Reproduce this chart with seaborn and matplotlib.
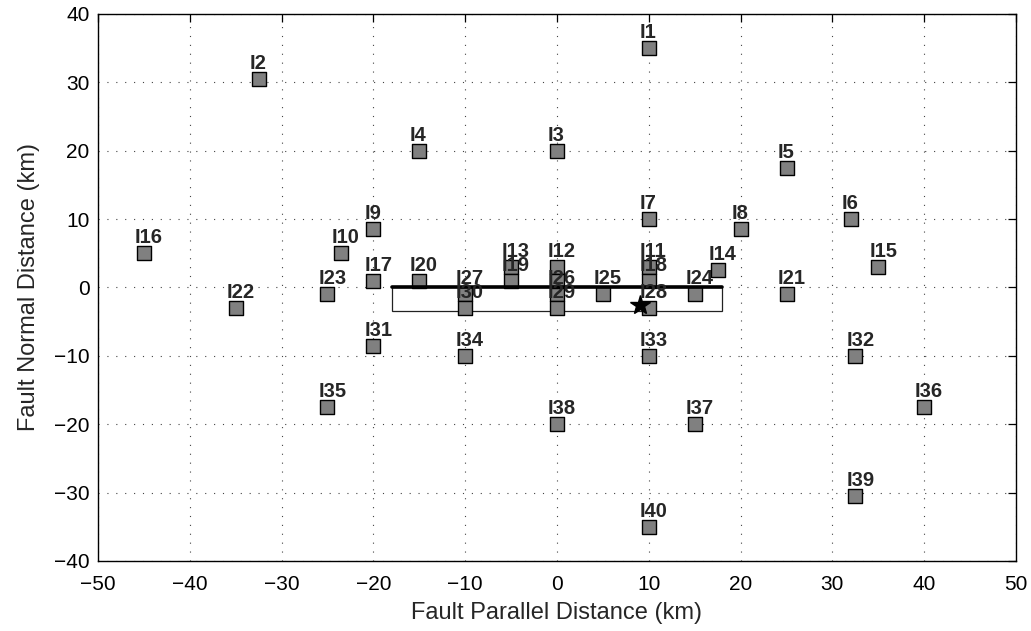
import matplotlib
matplotlib.use("Agg")
import matplotlib.pyplot as plt
import seaborn as sns
import pandas as pd

# Station names and coordinates (km) relative to the fault trace
names = ["I1", "I2", "I3", "I4", "I5", "I6", "I7", "I8", "I9", "I10",
         "I11", "I12", "I13", "I14", "I15", "I16", "I17", "I18", "I19", "I20",
         "I21", "I22", "I23", "I24", "I25", "I26", "I27", "I28", "I29", "I30",
         "I31", "I32", "I33", "I34", "I35", "I36", "I37", "I38", "I39", "I40", ""]
x_km = [10, -32.5, 0, -15, 25, 32, 10, 20, -20, -23.5,
        10, 0, -5, 17.5, 35, -45, -20, 10, -5, -15,
        25, -35, -25, 15, 5, 0, -10, 10, 0, -10,
        -20, 32.5, 10, -10, -25, 40, 15, 0, 32.5, 10, 0]
y_km = [35, 30.5, 20, 20, 17.5, 10, 10, 8.5, 8.5, 5,
        3, 3, 3, 2.5, 3, 5, 1, 1, 1, 1,
        -1, -3, -1, -1, -1, -1, -1, -3, -3, -3,
        -8.5, -10, -10, -10, -17.5, -17.5, -20, -20, -30.5, -35, 1]

# Fault trace, surface projection of the rupture plane and hypocentre
fault_x = [-18, 18]
fault_y = [0, 0]
plane_x = [-18, 18, 18, -18, -18]
plane_y = [0, 0, -3.5, -3.5, 0]
hypo_x = [9]
hypo_y = [-2.5]

stations = pd.DataFrame({"name": names, "x": x_km, "y": y_km})

sns.set_style("white")
plt.rcParams["font.family"] = ["Liberation Sans", "DejaVu Sans"]

fig = plt.figure(figsize=(10.31, 6.31), dpi=100)
ax = fig.add_axes([0.095, 0.111, 0.8905, 0.867])

ax.fill(plane_x, plane_y, facecolor="white", edgecolor="#222222", linewidth=0.9, zorder=2)

sns.scatterplot(data=stations, x="x", y="y", marker="s", s=95,
                color="#808080", edgecolor="black", linewidth=1.0,
                ax=ax, zorder=3, legend=False)

ax.plot(fault_x, fault_y, color="black", linewidth=2.6, zorder=4)
ax.plot(hypo_x, hypo_y, marker="*", color="black", markersize=15,
        linestyle="none", zorder=5)

for _, r in stations.iterrows():
    if r["name"]:
        ax.text(r["x"] - 1.0, r["y"] + 1.45, r["name"], fontsize=14.5,
                fontweight="bold", ha="left", va="baseline", zorder=6)

ax.set_xlim(-50, 50)
ax.set_ylim(-40, 40)
ax.set_xticks(range(-50, 51, 10))
ax.set_yticks(range(-40, 41, 10))
ax.grid(True, color="#444444", linestyle=(0, (1, 7)), linewidth=0.8)
ax.tick_params(direction="in", length=6, width=0.9, top=True, right=True,
               labelsize=15, colors="black")
ax.tick_params(axis="x", pad=10)
ax.tick_params(axis="y", pad=6)
for sp in ax.spines.values():
    sp.set_color("black")
    sp.set_linewidth(1.0)

ax.set_xlabel("Fault Parallel Distance (km)", fontsize=17, labelpad=6)
ax.set_ylabel("Fault Normal Distance (km)", fontsize=17, labelpad=10)

fig.savefig("out.png", dpi=100)
